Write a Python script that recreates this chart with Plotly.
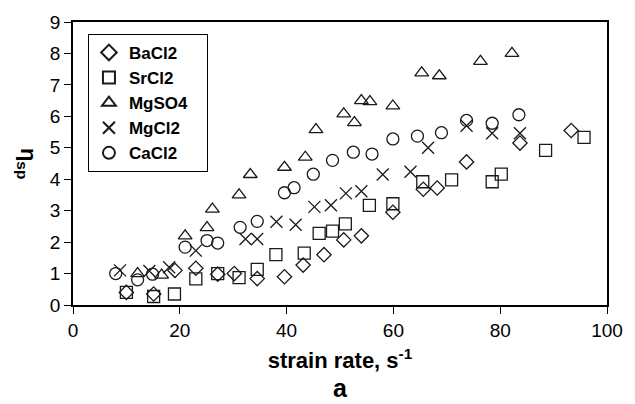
import plotly.graph_objects as go

# BaCl2 (diamonds)
ba_x = [10, 15.1, 19.1, 23, 27.1, 30.2, 34.5, 39.6, 43.1, 47, 50.7, 54, 59.9, 65.6, 68.2, 73.7, 83.7, 93.3]
ba_y = [0.4, 0.35, 1.1, 1.17, 0.98, 1.0, 0.84, 0.9, 1.27, 1.6, 2.07, 2.2, 2.95, 3.68, 3.72, 4.55, 5.15, 5.55]
# SrCl2 (squares)
sr_x = [10, 15.1, 19, 23, 27.1, 31.1, 34.5, 38, 43.3, 46.1, 48.6, 51, 55.5, 59.9, 65.5, 70.9, 78.5, 80.2, 88.5, 95.7]
sr_y = [0.4, 0.27, 0.35, 0.83, 1.0, 0.87, 1.13, 1.6, 1.65, 2.28, 2.35, 2.58, 3.17, 3.22, 3.92, 3.98, 3.92, 4.16, 4.92, 5.33]
# MgSO4 (triangles)
mgso4_x = [12.1, 16.6, 21, 25.1, 26.1, 31.1, 33.2, 39.6, 43.5, 45.5, 50.7, 52.7, 54, 55.6, 59.9, 65.3, 68.6, 76.3, 82.2]
mgso4_y = [1.0, 0.95, 2.2, 2.46, 3.05, 3.5, 4.15, 4.38, 4.7, 5.58, 6.08, 5.8, 6.5, 6.47, 6.33, 7.38, 7.29, 7.75, 8.0]
# MgCl2 (crosses)
mgcl_x = [8.8, 14.3, 18, 23, 32.3, 34.5, 38.1, 41.7, 45.2, 48.3, 51.1, 54, 58, 63.2, 66.5, 73.7, 78.5, 83.7]
mgcl_y = [1.1, 1.08, 1.2, 1.73, 2.1, 2.1, 2.65, 2.55, 3.12, 3.17, 3.55, 3.62, 4.15, 4.24, 5.0, 5.7, 5.46, 5.46]
# CaCl2 (circles)
ca_x = [8, 12.1, 14.9, 21, 25.1, 27.1, 31.3, 34.5, 39.6, 41.4, 45, 48.6, 52.5, 56, 59.9, 64.5, 69, 73.7, 78.5, 83.5]
ca_y = [1.0, 0.8, 0.98, 1.84, 2.05, 1.97, 2.47, 2.66, 3.57, 3.73, 4.16, 4.6, 4.86, 4.8, 5.28, 5.37, 5.48, 5.87, 5.78, 6.05]

x_ticks = [0, 20, 40, 60, 80, 100]
y_ticks = [0, 1, 2, 3, 4, 5, 6, 7, 8, 9]

ink = "#1a1a1a"
pad = "\u00a0\u00a0\u00a0"
series = [
    ("BaCl2", ba_x, ba_y, "diamond-open", 11),
    ("SrCl2", sr_x, sr_y, "square-open", 12),
    ("MgSO4", mgso4_x, mgso4_y, "triangle-up-open", 12),
    ("MgCl2", mgcl_x, mgcl_y, "x-thin-open", 12),
    ("CaCl2", ca_x, ca_y, "circle-open", 12),
]

fig = go.Figure()
for name, xs, ys, sym, sz in series:
    fig.add_trace(go.Scatter(
        x=xs, y=ys, mode="markers", name=name + pad,
        marker=dict(symbol=sym, size=sz, color=ink, line=dict(color=ink, width=1.3)),
    ))

font_main = "Liberation Sans, Arial, sans-serif"
fig.update_layout(
    width=635, height=404,
    margin=dict(l=73, r=19, t=20, b=99),
    paper_bgcolor="white", plot_bgcolor="white",
    font=dict(family=font_main, color="black", size=19),
    showlegend=True,
    legend=dict(
        x=0.028, y=0.958, xanchor="left", yanchor="top",
        bordercolor="black", borderwidth=1, bgcolor="white",
        font=dict(family=font_main, size=17, weight="bold"),
        tracegroupgap=0, itemsizing="constant",
    ),
    xaxis=dict(
        range=[0, 100], tickvals=x_ticks, ticks="outside", ticklen=7, tickwidth=1.3,
        tickcolor="black", showline=True, linecolor="black", linewidth=1.5, mirror=True,
        showgrid=False, zeroline=False,
        tickfont=dict(size=19), ticklabeloverflow="allow",
        title=dict(text="<b>strain rate, s<sup>-1</sup></b>", font=dict(size=22), standoff=13),
    ),
    yaxis=dict(
        range=[0, 9], tickvals=y_ticks, ticks="outside", ticklen=7, tickwidth=1.3,
        tickcolor="black", showline=True, linecolor="black", linewidth=1.5, mirror=True,
        showgrid=False, zeroline=False,
        tickfont=dict(size=19),
    ),
    annotations=[
        dict(text="<b>η<sub>sp</sub></b>", xref="paper", yref="paper", x=-0.085, y=0.5,
             xanchor="center", yanchor="middle", textangle=90, showarrow=False,
             font=dict(size=22)),
        dict(text="<b>a</b>", xref="paper", yref="paper", x=0.5, y=-0.295,
             xanchor="center", yanchor="middle", showarrow=False, font=dict(size=25)),
    ],
)

fig.write_html("out.html")
